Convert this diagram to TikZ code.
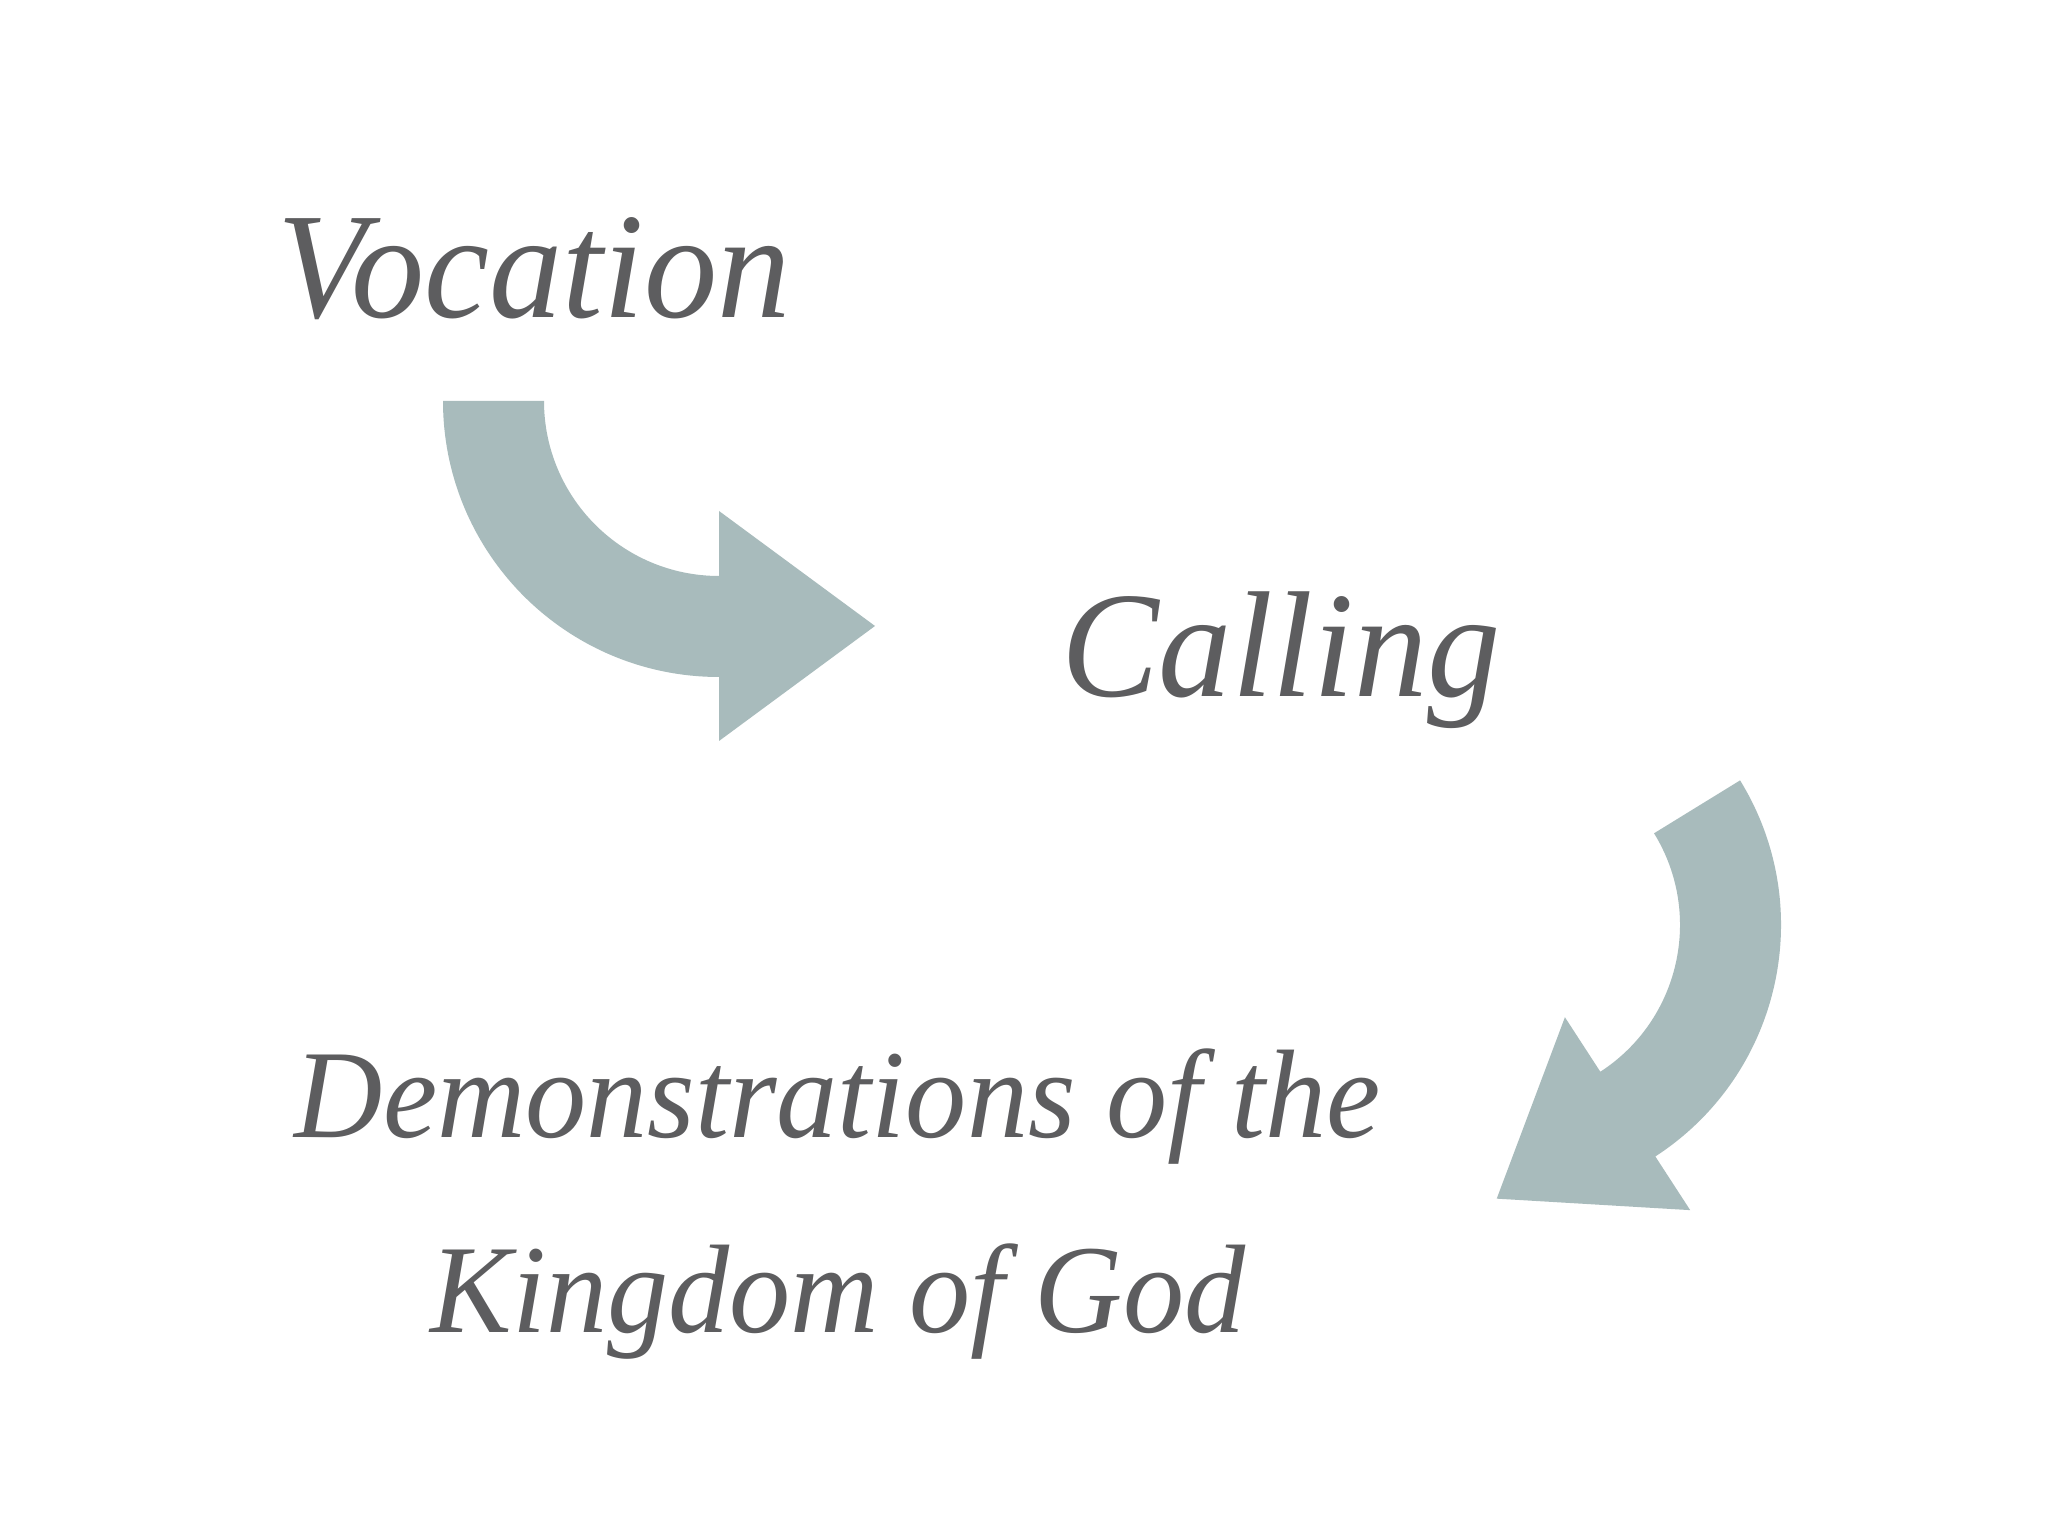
\documentclass[tikz,border=0pt]{standalone}
\usepackage{fontspec}
\setmainfont{Liberation Serif}[FakeStretch=0.97]
\usetikzlibrary{calc}
\definecolor{arrowgray}{RGB}{168,187,188}
\definecolor{textgray}{RGB}{93,93,95}

\begin{document}
\begin{tikzpicture}[%
    x=1pt, y=1pt,
    word/.style={text=textgray, inner sep=0pt, anchor=base,
      font=\fontsize{151}{181}\selectfont\itshape},
    phrase/.style={word, font=\fontsize{126}{151}\selectfont\itshape},
    bentarrow/.style={fill=arrowgray, draw=none}]
  \useasboundingbox[fill=white] (0,0) rectangle (2048,1536);
  \node[word] (vocation) at (534,1218) {Vocation};
  \node[word] (calling) at (1281,839) {Calling};
  \node[phrase] (demo) at (838,398) {Demonstrations of the};
  \node[phrase] (kingdom) at ([yshift=-195pt]demo.base) {Kingdom of God};
  % vocation -> calling
  \coordinate (c1) at (719,1135);
  \fill[bentarrow] ($(c1)+(180:276)$) arc[start angle=180, end angle=270, radius=276]
    -- ($(c1)+(270:340)$) -- ($(c1)+(270:225)+(0:156)$) -- ($(c1)+(270:110)$)
    -- ($(c1)+(270:175)$) arc[start angle=270, end angle=180, radius=175] -- cycle;
  % calling -> kingdom
  \coordinate (c2) at (1505,611);
  \fill[bentarrow] ($(c2)+(31.6:276)$) arc[start angle=31.6, end angle=-57, radius=276]
    -- ($(c2)+(-57:340)$) -- ($(c2)+(-57:225)+(-147:156)$) -- ($(c2)+(-57:110)$)
    -- ($(c2)+(-57:175)$) arc[start angle=-57, end angle=31.6, radius=175] -- cycle;
\end{tikzpicture}
\end{document}
